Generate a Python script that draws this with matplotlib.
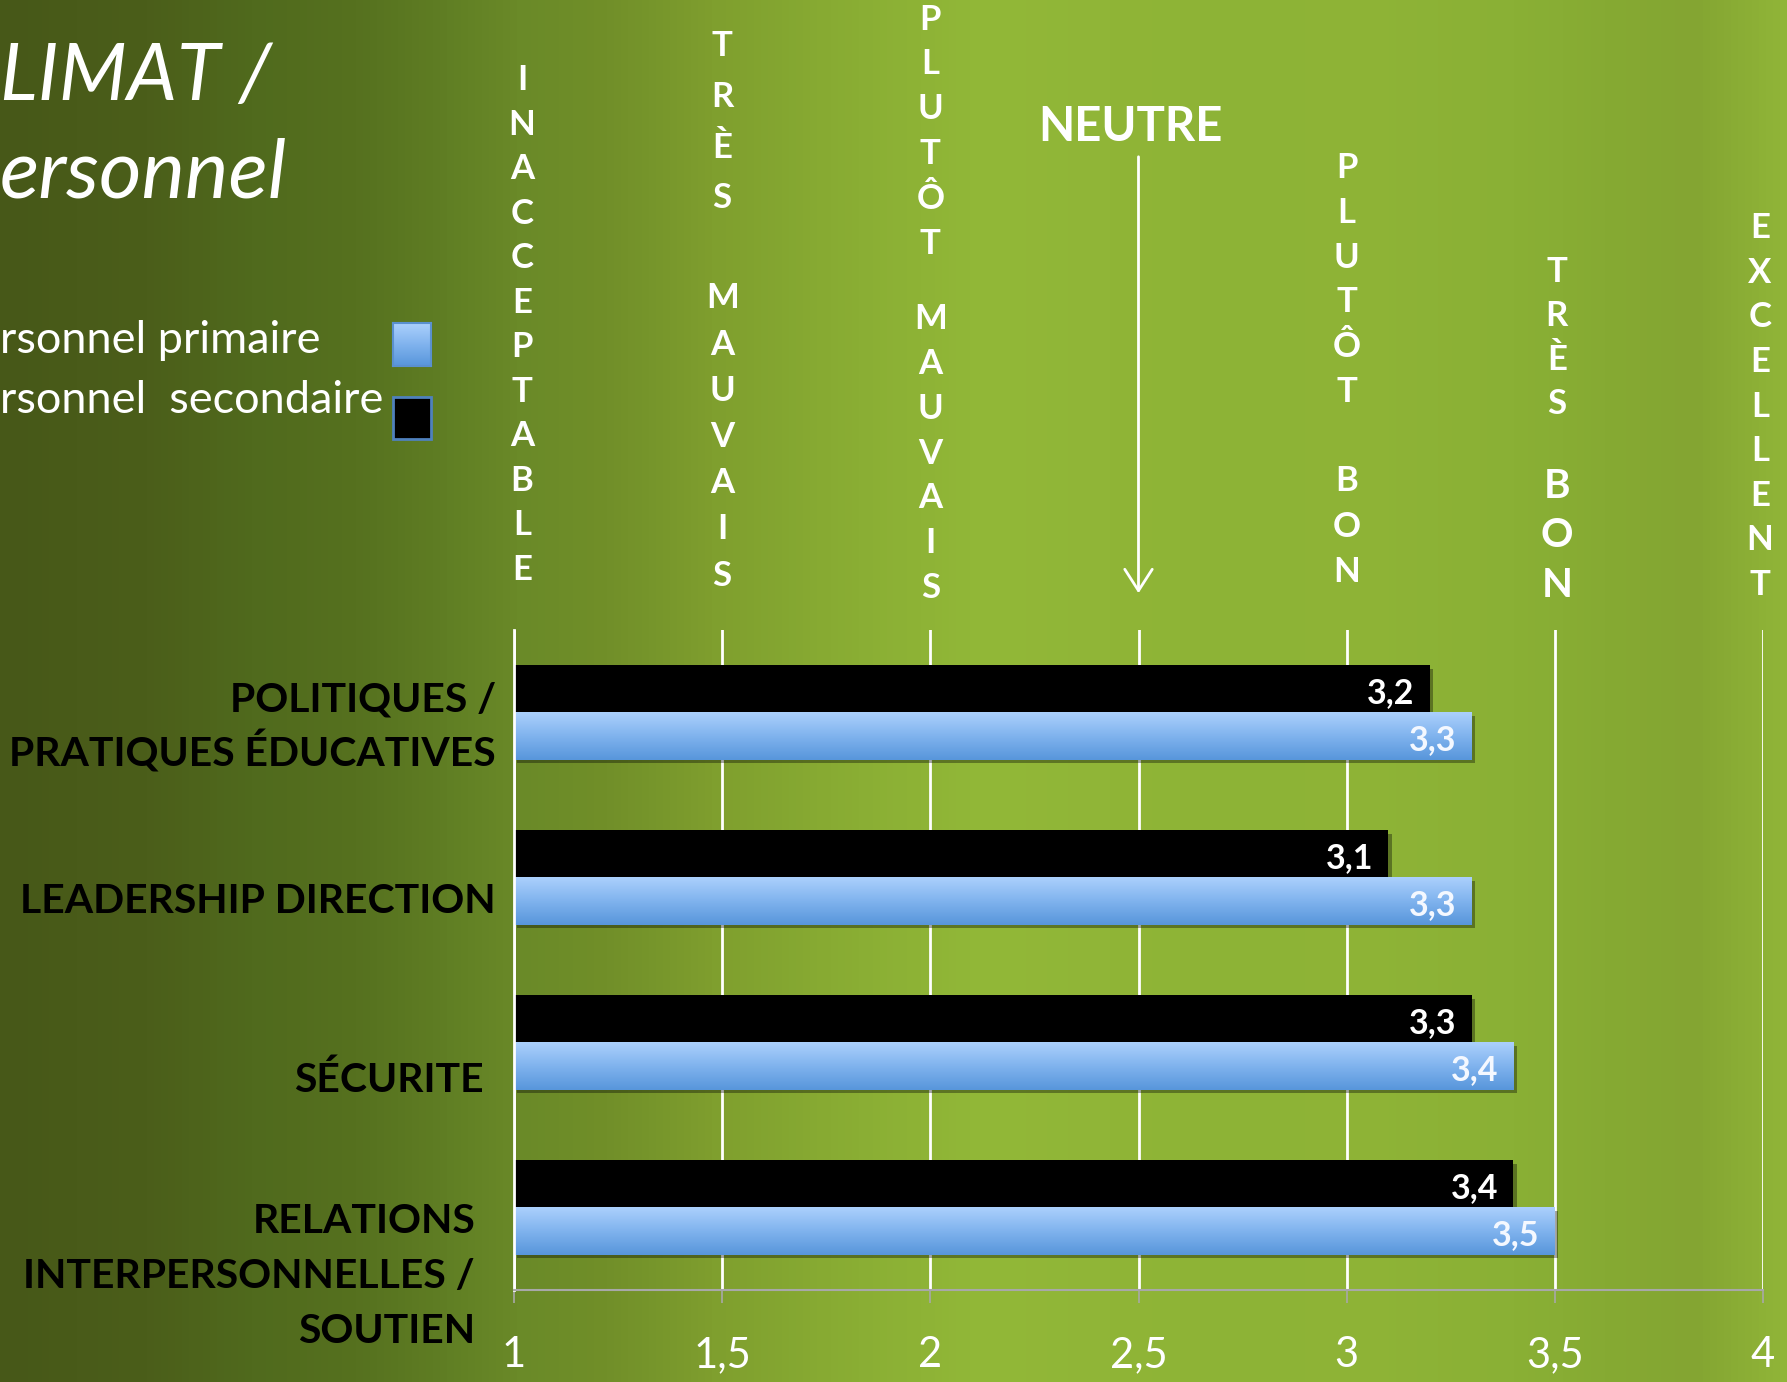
import numpy as np
import matplotlib
matplotlib.use("Agg")
import matplotlib.pyplot as plt
import matplotlib.patheffects as pe
from matplotlib.colors import LinearSegmentedColormap
from matplotlib.patches import Rectangle, FancyArrowPatch
from matplotlib.transforms import Affine2D, blended_transform_factory

# data
categories = ["POLITIQUES /\nPRATIQUES ÉDUCATIVES", "LEADERSHIP DIRECTION",
              "SÉCURITE", "RELATIONS\nINTERPERSONNELLES /\nSOUTIEN"]
secondaire = [3.2, 3.1, 3.3, 3.4]
primaire = [3.3, 3.3, 3.4, 3.5]
xticks = [1, 1.5, 2, 2.5, 3, 3.5, 4]
xtick_labels = ["1", "1,5", "2", "2,5", "3", "3,5", "4"]
scale_words = ["INACCEPTABLE", "TRÈS MAUVAIS", "PLUTÔT MAUVAIS",
               "PLUTÔT BON", "TRÈS BON", "EXCELLENT"]
scale_x = [1, 1.5, 2, 3, 3.5, 4]
legend_labels = ["rsonnel primaire", "rsonnel  secondaire"]
title_lines = ["LIMAT /", "ersonnel"]

FONT = ["Lato", "DejaVu Sans"]
W, H = 1787, 1382
fig = plt.figure(figsize=(W / 100, H / 100), dpi=100)
# pixel coords from the top-left corner
px = Affine2D().scale(1 / W, -1 / H).translate(0, 1) + fig.transFigure

# background: vertical stripes gradient
bg = fig.add_axes([0, 0, 1, 1], zorder=-10)
stops = [(0.0, "#475818"), (0.08, "#4b5e1a"), (0.14, "#506a1d"), (0.20, "#56711f"),
         (0.24, "#5e7c23"), (0.29, "#6a8a28"), (0.34, "#718f29"), (0.40, "#7f9f2e"),
         (0.48, "#8aae34"), (0.55, "#92b838"), (0.62, "#90b537"), (0.70, "#8db336"),
         (0.76, "#8fb437"), (0.85, "#8ab035"), (0.90, "#86aa33"), (0.95, "#84a532"),
         (1.0, "#90b538")]
bg_cmap = LinearSegmentedColormap.from_list("bg", stops)
bg.imshow(np.linspace(0, 1, W).reshape(1, -1), cmap=bg_cmap, aspect="auto",
          extent=[0, 1, 0, 1])
bg.axis("off")

ax = fig.add_axes([514 / W, 1 - 1290 / H, (1763 - 514) / W, (1290 - 630) / H])
ax.set_facecolor("none")

y = np.arange(len(categories))
h = 0.287
shadow = [pe.SimplePatchShadow(offset=(2.5, -2.5), shadow_rgbFace="black", alpha=0.35),
          pe.Normal()]
black_bars = ax.barh(y - h / 2, np.array(secondaire) - 1, left=1, height=h,
                     color="black", zorder=2, path_effects=shadow)
blue_bars = ax.barh(y + h / 2, np.array(primaire) - 1, left=1, height=h,
                    color="#7aaee8", zorder=2, path_effects=shadow)

blue_cmap = LinearSegmentedColormap.from_list("blue", ["#abd0fc", "#80b3ee", "#5896db"])
grad = np.linspace(0, 1, 64).reshape(-1, 1)
for b in blue_bars:
    x0, y0 = b.get_x(), b.get_y()
    ax.imshow(grad, cmap=blue_cmap, aspect="auto", zorder=2.5, clip_path=b,
              extent=[x0, x0 + b.get_width(), y0 + b.get_height(), y0])

for bars, vals, col in [(black_bars, secondaire, "white"), (blue_bars, primaire, "#f4f8ff")]:
    for b, v in zip(bars, vals):
        ax.annotate(f"{v:.1f}".replace(".", ","), (v, b.get_y() + b.get_height() / 2),
                    xytext=(-11, -3), textcoords="offset points", ha="right", va="center",
                    color=col, fontsize=24.5, fontweight="bold", family=FONT, zorder=4)

ax.set_xlim(1, 4)
ax.set_ylim(len(categories) - 0.5, -0.5)
ax.set_xticks(xticks)
ax.set_xticklabels(xtick_labels, color="white", fontsize=30, family=FONT)
ax.set_yticks([])
ax.tick_params(axis="x", length=9.4, width=1.2, color="#a8a8a8", pad=24)
ax.grid(axis="x", color="white", lw=2)
ax.set_axisbelow(True)
for s in ["top", "right"]:
    ax.spines[s].set_visible(False)
ax.spines["left"].set_color("white")
ax.spines["left"].set_linewidth(2)
ax.spines["bottom"].set_color("#a8a8a8")
ax.spines["bottom"].set_linewidth(1.5)

# category labels (right aligned left of the plot), one text per line
cat_pos = [(496, 724), (496, 898), (484, 1077), (475, 1273)]
line_pitch = 55
for lab, (cx, cy) in zip(categories, cat_pos):
    lines = lab.split("\n")
    top = cy - line_pitch * (len(lines) - 1) / 2
    for i, ln in enumerate(lines):
        fig.text(cx, top + i * line_pitch + 15, ln, transform=px, ha="right", va="baseline",
                 fontsize=29.4, fontweight="bold", color="black", family=FONT)

# vertical rating words over the gridlines
# (first letter centre y px, pitch per word, gap between words, x offset px, size per word)
col_layout = [(77.5, [44.55], 0, 8, [25]),
              (43.3, [50.9, 46.2], 100, 0, [25, 25]),
              (17.1, [44.9, 44.8], 75, 0, [25, 25]),
              (165.3, [44.9, 45.6], 89, 0, [25, 25]),
              (269, [44, 50], 82, 2, [25, 29]),
              (225.7, [44.6], 0, -3, [25])]
xpx = blended_transform_factory(ax.transData, px)
for word, xv, (y0, pitches, gap, dx, sizes) in zip(scale_words, scale_x, col_layout):
    yc = y0
    for k, part in enumerate(word.split(" ")):
        if k > 0:
            yc += gap - pitches[k - 1]
        for ch in part:
            fig.text(xv, yc + 0.36 * sizes[k] * 100 / 72, ch,
                     transform=xpx + Affine2D().translate(dx, 0),
                     ha="center", va="baseline", fontsize=sizes[k],
                     fontweight="bold", color="white", family=FONT)
            yc += pitches[k]

fig.text(1130, 127, "NEUTRE", transform=px, ha="center", va="center",
         fontsize=34, fontweight="bold", color="white", family=FONT)
arrow = FancyArrowPatch((2.5, 154), (2.5, 596), transform=xpx,
                        arrowstyle="->,head_length=0.7,head_width=0.45",
                        mutation_scale=22, color="white", lw=2)
fig.add_artist(arrow)

# title (cut at the left edge)
fig.text(0, 100, title_lines[0], transform=px, ha="left", va="baseline",
         fontsize=57, style="italic", color="white", family=FONT)
fig.text(0, 198, title_lines[1], transform=px, ha="left", va="baseline",
         fontsize=59, style="italic", color="white", family=FONT)

# legend
fig.text(0, 353, legend_labels[0], transform=px, ha="left", va="baseline",
         fontsize=32.5, color="white", family=FONT)
fig.text(0, 413, legend_labels[1], transform=px, ha="left", va="baseline",
         fontsize=32.5, color="white", family=FONT)
sq = fig.add_axes([393 / W, 1 - 366 / H, 38 / W, 43 / H])
sq.imshow(grad, cmap=blue_cmap, aspect="auto")
sq.set_xticks([])
sq.set_yticks([])
for s in sq.spines.values():
    s.set_color("#5a90cf")
    s.set_linewidth(1.5)
fig.add_artist(Rectangle((393, 439), 38, -42, transform=px, facecolor="black",
                         edgecolor="#4f81bd", lw=2))

fig.savefig("out.png", dpi=100)
